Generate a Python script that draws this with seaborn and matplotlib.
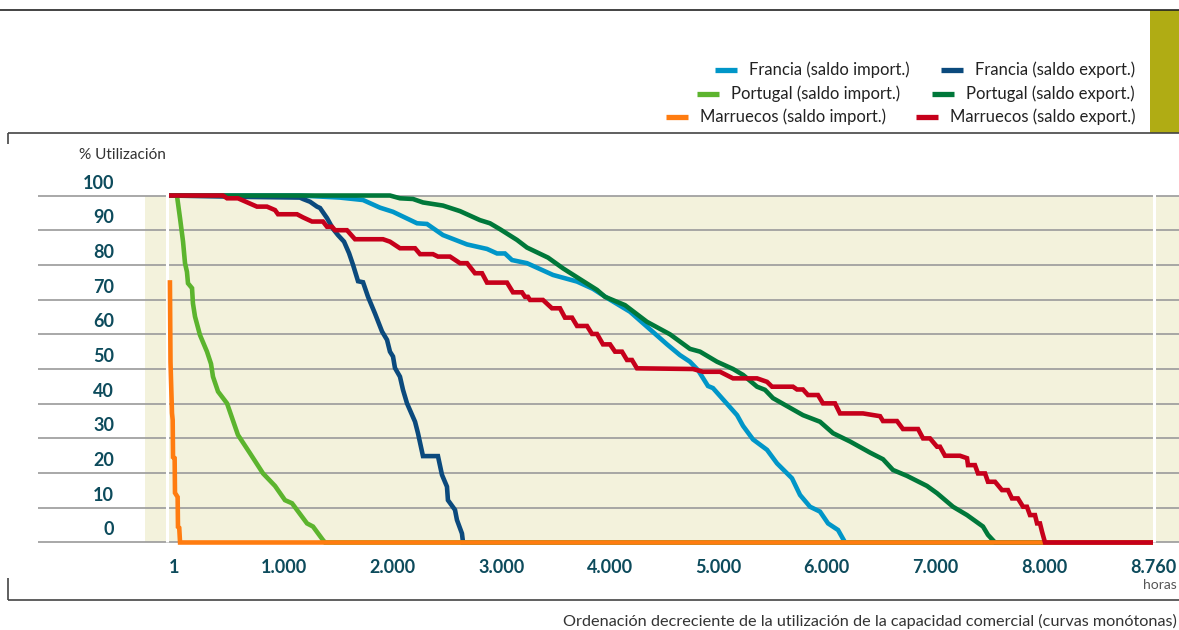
import numpy as np
import pandas as pd
import matplotlib
matplotlib.use("Agg")
import matplotlib.pyplot as plt
import seaborn as sns
from matplotlib.lines import Line2D
from matplotlib.patches import Rectangle
from matplotlib.transforms import ScaledTranslation

# ---------------- data (hours, % utilisation) ----------------
fr_imp_h = [1, 1147, 1516, 1728, 1884, 2004, 2225, 2317, 2464, 2686,
            2870, 2962, 3035, 3100, 3238, 3478, 3699, 3846, 3975, 4187,
            4343, 4528, 4647, 4739, 4813, 4905, 4951, 5173, 5228, 5320,
            5449, 5541, 5679, 5753, 5845, 5937, 6011, 6103, 6168, 8760]
fr_imp_v = [100, 100, 99.4, 98.7, 96.5, 95.3, 92, 91.8, 88.6, 85.9,
            84.6, 83.3, 83.3, 81.4, 80.5, 77.1, 75.2, 73.1, 70.5, 66.5,
            62.2, 57.1, 54, 52.1, 49.7, 45.1, 44.5, 36.7, 33.6, 29.7,
            26.7, 22.8, 18.5, 13.7, 10.3, 8.9, 5.5, 3.6, 0, 0]

fr_exp_h = [1, 661, 1147, 1175, 1240, 1304, 1332, 1396, 1451, 1497,
            1553, 1599, 1636, 1682, 1728, 1774, 1838, 1903, 1949, 1976,
            2004, 2022, 2068, 2096, 2133, 2207, 2234, 2280, 2418, 2455,
            2501, 2510, 2575, 2593, 2639, 2649, 8760]
fr_exp_v = [100, 99.6, 99.4, 99, 98.2, 96.8, 96.4, 93.5, 90.4, 88.6,
            86.7, 83.4, 80, 75.3, 75, 70.8, 66, 60.8, 58.4, 55,
            53.6, 50.3, 47.8, 44, 40.1, 34.8, 31.5, 24.9, 24.9, 19.5,
            16.1, 12.2, 9.4, 6.5, 2.6, 0, 0]

pt_imp_h = [1, 70, 97, 123, 140, 157, 166, 201, 209, 227,
            270, 331, 366, 383, 427, 505, 600, 705, 818, 922,
            1009, 1074, 1212, 1267, 1359, 1378, 8760]
pt_imp_v = [100, 100, 93.4, 86.7, 80.5, 78, 74.7, 73.3, 68.9, 65.1,
            59.8, 55, 51.5, 47.8, 43.5, 40.1, 31, 25.7, 19.9, 16.3,
            12.2, 11.3, 5.5, 4.6, 0.7, 0, 0]

pt_exp_h = [1, 1976, 2068, 2188, 2280, 2464, 2621, 2805, 2897, 2989,
            3146, 3238, 3432, 3570, 3726, 3883, 3957, 4141, 4343, 4555,
            4739, 4832, 4988, 5136, 5228, 5357, 5430, 5504, 5780, 5937,
            6057, 6214, 6398, 6517, 6609, 6738, 6922, 7015, 7162, 7291,
            7438, 7484, 7549, 8760]
pt_exp_v = [100, 100, 99.2, 99, 98, 97.1, 95.5, 92.9, 92, 90.3,
            87.2, 85, 82.1, 79, 75.9, 72.8, 70.8, 68.4, 63.6, 60,
            55.8, 55, 52.1, 50, 48.3, 44.9, 44, 41.6, 36.7, 34.8,
            31.5, 29.1, 25.9, 24, 20.9, 19.2, 16.3, 14.2, 10.3, 7.9,
            4.6, 2.2, 0, 0]

ma_imp_h = [9, 14, 27, 33, 36, 50, 53, 76, 79, 90, 97, 8760]
ma_imp_v = [75.6, 52, 37.3, 35.3, 24.6, 24.3, 14.3, 13.1, 4.5, 4.2, 0, 0]

ma_exp_h = [1, 470, 505, 600, 765, 852, 922, 948, 1120, 1175,
            1258, 1359, 1396, 1442, 1470, 1580, 1654, 1912, 1976, 2068,
            2207, 2253, 2372, 2418, 2529, 2621, 2686, 2759, 2824, 2870,
            3054, 3109, 3192, 3220, 3247, 3266, 3385, 3468, 3542, 3588,
            3653, 3699, 3791, 3837, 3883, 3938, 4003, 4049, 4113, 4159,
            4205, 4251, 4767, 4859, 5016, 5136, 5357, 5449, 5495, 5688,
            5725, 5780, 5826, 5918, 5964, 6075, 6121, 6333, 6490, 6517,
            6646, 6701, 6840, 6886, 6950, 7015, 7042, 7088, 7226, 7291,
            7300, 7364, 7392, 7457, 7484, 7549, 7613, 7668, 7705, 7760,
            7807, 7843, 7871, 7917, 7936, 7963, 7982, 8007, 8760]
ma_exp_v = [100, 100, 99.2, 99.2, 96.8, 96.8, 95.8, 94.6, 94.6, 93.7,
            92.5, 92.5, 91, 91, 90, 90, 87.4, 87.4, 86.7, 84.8,
            84.8, 83.1, 83.1, 82.4, 82.4, 80.5, 80.5, 77.6, 77.6, 74.9,
            74.9, 72.1, 72.1, 70.8, 70.8, 69.9, 69.9, 67.5, 67.5, 64.8,
            64.8, 62.4, 62.4, 60.1, 60.1, 57.1, 57.1, 55, 55, 52.6,
            52.6, 50.2, 50, 49.2, 49.2, 47.3, 47.3, 46.3, 44.9, 44.9,
            44.1, 44.1, 42.5, 42.5, 40.1, 40.1, 37.2, 37.2, 36.4, 35,
            35, 32.7, 32.7, 30, 30, 27.6, 27.6, 25, 25, 24.3,
            22.3, 22.3, 19.9, 19.9, 17.5, 17.5, 15.1, 15.1, 12.7, 12.7,
            10.3, 10.3, 7.9, 7.9, 5.5, 5.5, 3.1, 0, 0]

series_names = ["Francia (saldo import.)", "Francia (saldo export.)",
                "Portugal (saldo import.)", "Portugal (saldo export.)",
                "Marruecos (saldo import.)", "Marruecos (saldo export.)"]
series_h = [fr_imp_h, fr_exp_h, pt_imp_h, pt_exp_h, ma_imp_h, ma_exp_h]
series_v = [fr_imp_v, fr_exp_v, pt_imp_v, pt_exp_v, ma_imp_v, ma_exp_v]
series_colors = ["#0096c8", "#0b4a7d", "#5cb42e", "#00783a", "#ff7c10", "#c6001b"]

x_ticks = [1, 1000, 2000, 3000, 4000, 5000, 6000, 7000, 8000, 8760]
x_labels = ["1", "1.000", "2.000", "3.000", "4.000", "5.000", "6.000",
            "7.000", "8.000", "8.760"]
y_ticks = [0, 10, 20, 30, 40, 50, 60, 70, 80, 90, 100]
y_labels = [str(v) for v in y_ticks]

df = pd.concat([pd.DataFrame({"horas": h, "util": v, "serie": n})
                for h, v, n in zip(series_h, series_v, series_names)],
               ignore_index=True)

# ---------------- styling ----------------
sns.set_theme(style="white")
plt.rcParams["font.family"] = ["Lato", "DejaVu Sans"]

W, H = 1179, 630
fig = plt.figure(figsize=(W / 100, H / 100), dpi=100)
fig.patch.set_facecolor("white")

# axes covers px x 38..1179, y 185..552
ax = fig.add_axes([38 / W, 1 - 552 / H, (W - 38) / W, 367 / H])
ax.set_facecolor("white")

# piecewise-linear hour axis (ticks 1..8000 evenly spaced, last tick 8760 at the end)
KH = np.array([1.0, 1000.0, 8000.0, 8760.0])
KP = np.array([169.0, 284.0, 1044.0, 1153.0])


def _pw(x, a, b):
    x = np.asarray(x, dtype=float)
    s0 = (b[1] - b[0]) / (a[1] - a[0])
    s1 = (b[-1] - b[-2]) / (a[-1] - a[-2])
    out = np.interp(x, a, b)
    out = out + np.where(x < a[0], (x - a[0]) * s0, 0.0)
    out = out + np.where(x > a[-1], (x - a[-1]) * s1, 0.0)
    return out


def fwd(x):
    return _pw(x, KH, KP)


def inv(x):
    return _pw(x, KP, KH)


ax.set_xscale("function", functions=(fwd, inv))
ax.set_xlim(float(inv(38)), float(inv(1179)))
ax.set_ylim(-2.74, 103.03)

# beige plot band and white separators
ax.fill_between([float(inv(145)), float(inv(1179))], 0, 100,
                color="#f3f2dc", lw=0, zorder=0.2)
ax.set_axisbelow(True)
ax.grid(axis="y", color="#9a9a9a", lw=1.2)
ax.grid(axis="x", visible=False)
ax.vlines([float(inv(167)), float(inv(1154))], 0, 100.8,
          color="white", lw=2.2, zorder=1.5)

sns.lineplot(data=df, x="horas", y="util", hue="serie",
             hue_order=series_names, palette=dict(zip(series_names, series_colors)),
             sort=False, estimator=None, legend=False, lw=3.3, ax=ax)
for ln in ax.lines:
    ln.set_solid_joinstyle("miter")
    ln.set_solid_capstyle("butt")

for s in ax.spines.values():
    s.set_visible(False)
ax.set_xlabel("")
ax.set_ylabel("")

tick_color = "#0d4b5c"
ax.set_xticks(x_ticks, labels=x_labels, fontweight="bold")
ax.set_yticks(y_ticks, labels=y_labels, fontweight="bold")
ax.tick_params(axis="x", length=0, pad=5, labelsize=13, labelcolor=tick_color)
ax.tick_params(axis="y", length=0, pad=-(114 - 38) * 0.72, labelsize=13,
               labelcolor=tick_color)
ax.minorticks_off()

# y labels sit half way above their grid lines
for lab in ax.get_yticklabels():
    lab.set_transform(lab.get_transform() + ScaledTranslation(0, 0.14, fig.dpi_scale_trans))
xl = ax.get_xticklabels()
xl[0].set_transform(xl[0].get_transform() + ScaledTranslation(0.05, 0, fig.dpi_scale_trans))


# ---------------- frame decoration ----------------
def fline(x0, y0, x1, y1, color="#333333", lw=1.2):
    fig.add_artist(Line2D([x0 / W, x1 / W], [1 - y0 / H, 1 - y1 / H],
                          transform=fig.transFigure, color=color, lw=lw,
                          solid_capstyle="butt"))


fline(0, 10, 1179, 10, color="#222222", lw=1.2)
fig.add_artist(Rectangle((1150 / W, 1 - 133 / H), 29 / W, 123 / H,
                         transform=fig.transFigure, color="#b0ac14", lw=0))
fline(8, 133, 1179, 133, color="#444444", lw=1.2)
fline(8, 133, 8, 144, color="#444444", lw=1.2)
fline(8, 600, 1179, 600, color="#444444", lw=1.2)
fline(8, 578, 8, 600, color="#444444", lw=1.2)

fig.text(79 / W, 1 - 155 / H, "% Utilización", fontsize=11.1, color="#333333",
         ha="left", va="center")
fig.text(1177 / W, 1 - 585 / H, "horas", fontsize=10, color="#555555",
         ha="right", va="center")
fig.text(1177 / W, 1 - 621 / H,
         "Ordenación decreciente de la utilización de la capacidad comercial (curvas monótonas)",
         fontsize=11.7, color="#333333", ha="right", va="center")

# ---------------- legend (two columns, swatch before text) ----------------
leg_right = [910, 1135, 900, 1135, 886, 1135]
leg_y = [70, 70, 94, 94, 117, 117]
fig.canvas.draw()
renderer = fig.canvas.get_renderer()
for name, col, rx, ry in zip(series_names, series_colors, leg_right, leg_y):
    t = fig.text(rx / W, 1 - ry / H, name, fontsize=12, color="#222222",
                 ha="right", va="center")
    bb = t.get_window_extent(renderer)
    x1 = bb.x0 - 12
    x0 = x1 - 22
    fig.add_artist(Line2D([x0 / W, x1 / W], [1 - ry / H, 1 - ry / H],
                          transform=fig.transFigure, color=col, lw=3.8,
                          solid_capstyle="butt"))

fig.savefig("out.png", dpi=100)
